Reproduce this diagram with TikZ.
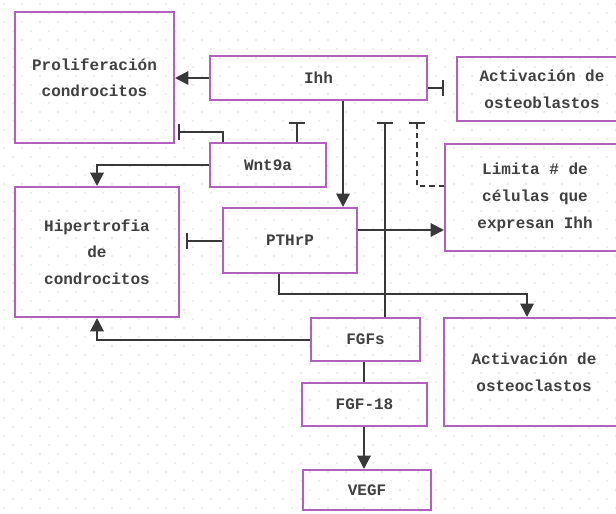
\documentclass[tikz,border=0pt]{standalone}
\usepackage{fontspec}
\setmonofont{Liberation Mono}
\usetikzlibrary{arrows.meta}
\definecolor{boxc}{RGB}{178,96,190}
\begin{document}
\begin{tikzpicture}[x=0.75pt,y=-0.75pt,
  box/.style={draw=boxc, line width=1.5pt, inner sep=0pt, align=center,
    font=\ttfamily\bfseries\fontsize{12}{20}\selectfont, text=black!75},
  sz/.style 2 args={minimum width=#1*0.75pt, minimum height=#2*0.75pt},
  link/.style={draw=black!78, line width=1.5pt},
  arr/.style={link, -{Triangle[length=10pt,width=10pt]}},
  inh/.style={link, -{Bar[width=12pt,line width=1.5pt]}},
  dotc/.style={fill=gray!30}]
\useasboundingbox (0,0) rectangle (616,513);
\clip (0,0) rectangle (616,513);
\fill[white] (0,0) rectangle (616,513);
% dotted background
\foreach \j in {0,...,28} {
  \foreach \i in {0,...,34} {
    \fill[dotc] ({\i*18+4},{\j*18+4}) circle (0.7pt);
    \fill[dotc] ({\i*18+13},{\j*18+13}) circle (0.7pt);
  }
}
% boxes
\node[box, sz={159}{131}] (prolif) at (94.5,77.5) {Proliferación\\condrocitos};
\node[box, sz={217}{44}] (ihh) at (318.5,78) {Ihh};
\node[box, sz={170}{64}] (osteob) at (542,89) {Activación de\\osteoblastos};
\node[box, sz={116}{44}] (wnt) at (268,165) {Wnt9a};
\node[box, sz={164}{130}] (hiper) at (97,252) {Hipertrofia\\de\\condrocitos};
\node[box, sz={134}{65}] (pthrp) at (290,240.5) {PTHrP};
\node[box, sz={180}{107}] (limita) at (535,197.5) {Limita \# de\\células que\\expresan Ihh};
\node[box, sz={109}{43}] (fgfs) at (365.5,339.5) {FGFs};
\node[box, sz={180}{108}] (osteoc) at (534,372) {Activación de\\osteoclastos};
\node[box, sz={125}{43}] (fgf18) at (364.5,404.5) {FGF-18};
\node[box, sz={128}{40}] (vegf) at (367,490) {VEGF};
% free ends of inhibitions
\coordinate (tOb) at (444,88);
\coordinate (tW1) at (297,122);
\coordinate (tW2) at (178,132);
\coordinate (tP) at (186,240.5);
\coordinate (tF) at (385,122);
\coordinate (tL) at (417,122);
% connectors
\draw[arr] (ihh.west) -- (prolif.east |- ihh.west);
\draw[inh] (ihh.east |- tOb) -- (tOb);
\draw[arr] (ihh.south -| 343,0) -- (pthrp.north -| 343,0);
\draw[inh] (wnt.north -| tW1) -- (tW1);
\draw[inh] (wnt.north -| 223,0) |- (tW2);
\draw[arr] (wnt.west) -| (hiper.north);
\draw[inh] (pthrp.west) -- (tP);
\draw[arr] (pthrp.east |- 0,230) -- (limita.west |- 0,230);
\draw[arr] (pthrp.south -| 279,0) -- (279,294) -- (527,294) -- (osteoc.north -| 527,0);
\draw[inh] (fgfs.north -| tF) -- (tF);
\draw[inh, dashed, dash pattern=on 4pt off 3pt] (limita.west |- 0,186) -| (tL);
\draw[arr] (fgfs.west) -| (hiper.south);
\draw[link] (fgfs.south -| 364,0) -- (fgf18.north -| 364,0);
\draw[arr] (fgf18.south -| 364,0) -- (vegf.north -| 364,0);
\end{tikzpicture}
\end{document}
